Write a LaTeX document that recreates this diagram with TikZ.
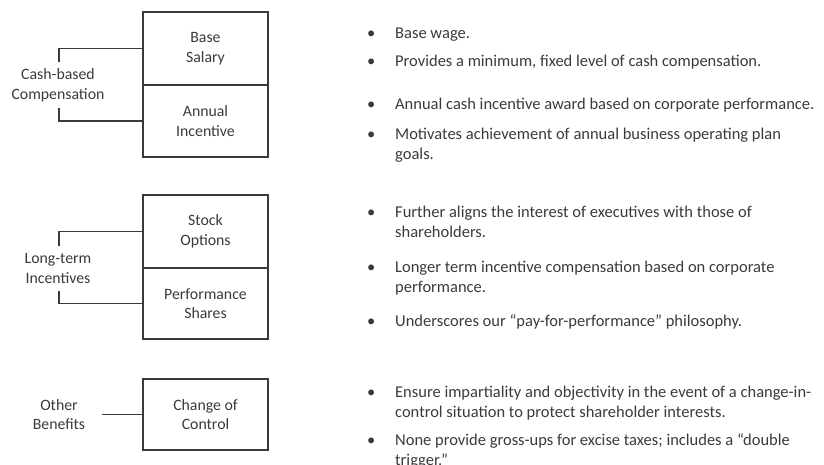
\documentclass[tikz,border=0pt]{standalone}
\usepackage{fontspec}
\setmainfont{Carlito}
\usepackage{array}
\definecolor{txt}{HTML}{3A3A3A}
\definecolor{ln}{HTML}{3A3A3A}
\begin{document}
\begin{tikzpicture}[x=1pt,y=-1pt,
  every node/.style={text=txt,font=\fontsize{15.8}{19.5}\selectfont},
  box/.style={draw=ln,line width=1.4pt,minimum width=125pt,inner sep=0pt,align=center},
  lbl/.style={align=center,inner sep=0pt},
  item/.style={anchor=west,inner sep=0pt,align=left,font=\fontsize{16.5}{20}\selectfont},
  conn/.style={draw=ln,line width=1.4pt}]
\useasboundingbox (0,0) rectangle (824,465);
% boxes
\node[box,minimum height=73pt] (bs) at (205.5,48.5) {Base\\Salary};
\node[box,minimum height=72pt] (ai) at (205.5,121) {Annual\\Incentive};
\node[box,minimum height=73pt] (so) at (205.5,231.5) {Stock\\Options};
\node[box,minimum height=71pt] (ps) at (205.5,303.5) {Performance\\Shares};
\node[box,minimum height=71pt] (cc) at (205.5,414.5) {Change of\\Control};
% labels
\node[lbl] (cash) at (58,85.5) {Cash-based\\Compensation};
\node[lbl] (lti) at (58,268.5) {Long-term\\Incentives};
\node[lbl] (oth) at (59,414.5) {Other\\Benefits};
% bracket ends
\coordinate (c1) at (59,62);
\coordinate (c2) at (59,108);
\coordinate (c3) at (59,246);
\coordinate (c4) at (59,291);
\coordinate (c5) at (102,414.5);
\draw[conn] (bs.west) -| (c1);
\draw[conn] (ai.west) -| (c2);
\draw[conn] (so.west) -| (c3);
\draw[conn] (ps.west) -| (c4);
\draw[conn] (cc.west) -- (c5);
% bullet items
\newcommand{\bitem}[1]{\begin{tabular}{@{}>{\raggedright}p{28pt}@{}l@{}}\textbullet & #1\end{tabular}}
\node[item] (t1) at (367,35) {\bitem{Base wage.}};
\node[item] (t2) at (367,63) {\bitem{Provides a minimum, fixed level of cash compensation.}};
\node[item] (t3) at (367,106) {\bitem{Annual cash incentive award based on corporate performance.}};
\node[item] (t4) at (367,145.5) {\bitem{Motivates achievement of annual business operating plan\\ & goals.}};
\node[item] (t5) at (367,223) {\bitem{Further aligns the interest of executives with those of\\ & shareholders.}};
\node[item] (t6) at (367,278) {\bitem{Longer term incentive compensation based on corporate\\ & performance.}};
\node[item] (t7) at (367,322) {\bitem{Underscores our ``pay-for-performance'' philosophy.}};
\node[item] (t8) at (367,403) {\bitem{Ensure impartiality and objectivity in the event of a change-in-\\ & control situation to protect shareholder interests.}};
\node[item] (t9) at (367,451.5) {\bitem{None provide gross-ups for excise taxes; includes a ``double\\ & trigger.''}};
\end{tikzpicture}
\end{document}
